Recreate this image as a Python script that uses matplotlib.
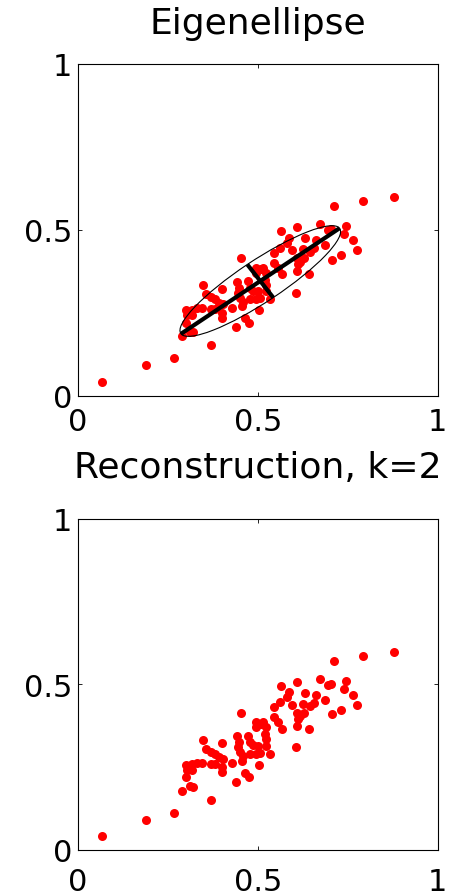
import numpy as np
import matplotlib
matplotlib.use("Agg")
import matplotlib.pyplot as plt
from matplotlib.patches import Ellipse

# ---- data ----
x_vals = [0.068, 0.189, 0.267, 0.369, 0.288, 0.311, 0.320, 0.301, 0.301, 0.304,
          0.317, 0.317, 0.331, 0.345, 0.371, 0.399, 0.399, 0.427, 0.348, 0.357,
          0.371, 0.380, 0.391, 0.402, 0.399, 0.439, 0.464, 0.475, 0.503, 0.441,
          0.448, 0.445, 0.450, 0.455, 0.459, 0.473, 0.478, 0.487, 0.496, 0.506,
          0.533, 0.494, 0.515, 0.494, 0.524, 0.519, 0.524, 0.524, 0.453, 0.545,
          0.545, 0.557, 0.566, 0.564, 0.587, 0.580, 0.561, 0.594, 0.608, 0.608,
          0.608, 0.606, 0.879, 0.792, 0.713, 0.673, 0.694, 0.703, 0.746, 0.739,
          0.765, 0.777, 0.732, 0.707, 0.688, 0.631, 0.663, 0.656, 0.645, 0.626,
          0.617, 0.628, 0.612, 0.641, 0.478, 0.501, 0.510, 0.380]
y_vals = [0.042, 0.092, 0.113, 0.152, 0.179, 0.192, 0.191, 0.220, 0.257, 0.243,
          0.243, 0.259, 0.263, 0.263, 0.260, 0.250, 0.235, 0.263, 0.333, 0.305,
          0.297, 0.290, 0.280, 0.275, 0.323, 0.206, 0.233, 0.219, 0.257, 0.343,
          0.325, 0.310, 0.295, 0.270, 0.283, 0.345, 0.325, 0.317, 0.290, 0.293,
          0.290, 0.386, 0.386, 0.371, 0.371, 0.350, 0.335, 0.315, 0.414, 0.431,
          0.401, 0.386, 0.366, 0.496, 0.476, 0.461, 0.446, 0.438, 0.509, 0.414,
          0.376, 0.310, 0.599, 0.587, 0.572, 0.517, 0.498, 0.502, 0.512, 0.487,
          0.468, 0.439, 0.424, 0.410, 0.454, 0.475, 0.468, 0.444, 0.434, 0.441,
          0.404, 0.414, 0.396, 0.366, 0.290, 0.315, 0.381, 0.260]

titles = ["Eigenellipse", "Reconstruction, k=2"]
tick_vals = [0, 0.5, 1]
tick_labels = ["0", "0.5", "1"]
k_components = 2
ellipse_scale = 1.5  # semi-axes = scale * sqrt(eigenvalue)

# ---- PCA ----
X = np.column_stack([x_vals, y_vals])
mu = X.mean(axis=0)
C = np.cov((X - mu).T)
evals, evecs = np.linalg.eigh(C)
order = np.argsort(evals)[::-1]
evals, evecs = evals[order], evecs[:, order]
W = evecs[:, :k_components]
X_rec = (X - mu) @ W @ W.T + mu

plt.rcParams['font.family'] = ['DejaVu Sans']

fig = plt.figure(figsize=(4.57, 8.95), dpi=100)
ax1 = fig.add_axes([0.1707, 0.5568, 0.787, 0.3706])
ax2 = fig.add_axes([0.1707, 0.0492, 0.787, 0.3698])

def style(ax, xpad):
    ax.set_xlim(0, 1)
    ax.set_ylim(0, 1)
    ax.set_xticks(tick_vals)
    ax.set_xticklabels(tick_labels)
    ax.set_yticks(tick_vals)
    ax.set_yticklabels(tick_labels)
    ax.tick_params(direction='in', length=3, width=0.6, top=True, right=True,
                   labelsize=22, colors='black')
    ax.tick_params(axis='x', pad=xpad)
    ax.tick_params(axis='y', pad=4)
    for s in ax.spines.values():
        s.set_linewidth(0.8)
        s.set_color('black')

# top: data + eigenellipse
ax1.plot(X[:, 0], X[:, 1], 'o', color='red', markersize=6.5, markeredgewidth=0, zorder=2)
angle = np.degrees(np.arctan2(evecs[1, 0], evecs[0, 0]))
a = ellipse_scale * np.sqrt(evals[0])
b = ellipse_scale * np.sqrt(evals[1])
ell = Ellipse(mu, 2 * a, 2 * b, angle=angle, fill=False, edgecolor='black', linewidth=0.8, zorder=3)
ax1.add_patch(ell)
for i, half in enumerate([a, b]):
    v = evecs[:, i] * half
    ax1.plot([mu[0] - v[0], mu[0] + v[0]], [mu[1] - v[1], mu[1] + v[1]],
             color='black', linewidth=3, solid_capstyle='butt', zorder=4)
style(ax1, 8)
ax1.set_title(titles[0], fontsize=26, pad=22)

# bottom: reconstruction
ax2.plot(X_rec[:, 0], X_rec[:, 1], 'o', color='red', markersize=6.5, markeredgewidth=0, zorder=2)
style(ax2, 12)
ax2.set_title(titles[1], fontsize=26, pad=30)

fig.savefig("out.png", dpi=100)
